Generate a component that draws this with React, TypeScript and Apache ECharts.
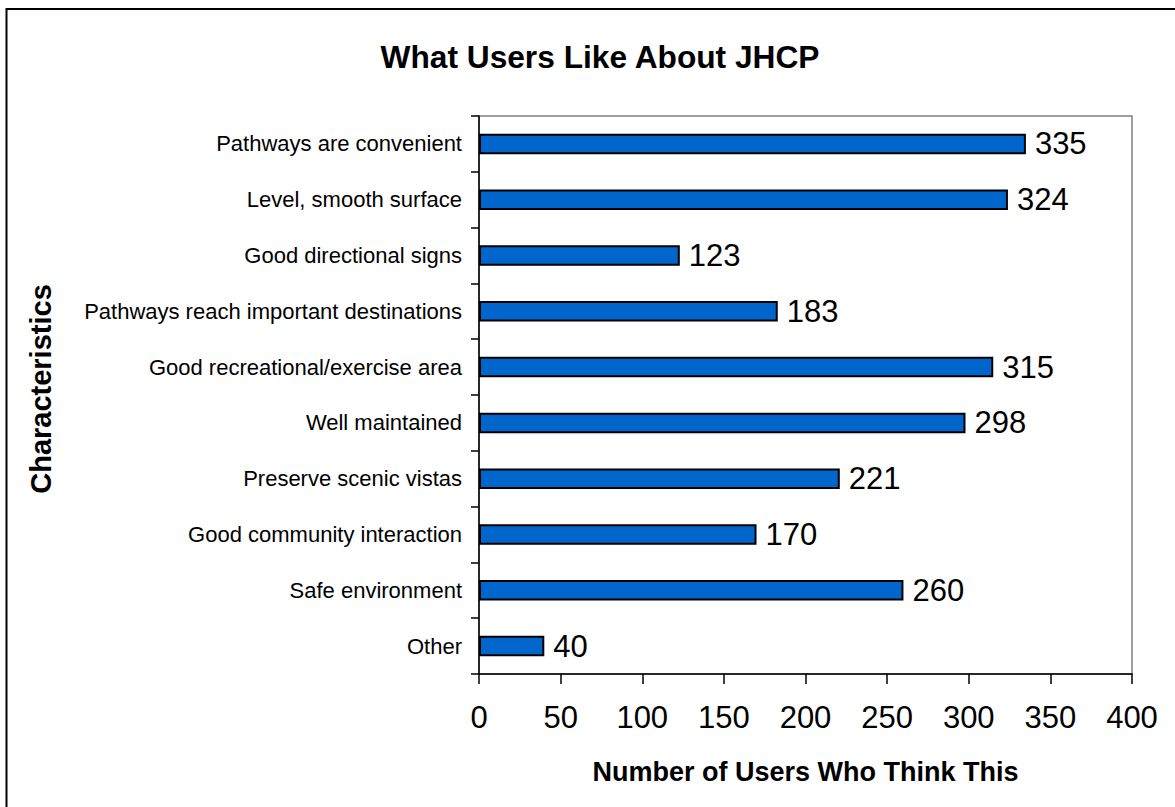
import React, { useEffect, useRef } from "react";
import * as echarts from "echarts";

const categories = [
  "Pathways are convenient",
  "Level, smooth surface",
  "Good directional signs",
  "Pathways reach important destinations",
  "Good recreational/exercise area",
  "Well maintained",
  "Preserve scenic vistas",
  "Good community interaction",
  "Safe environment",
  "Other",
];
const values = [335, 324, 123, 183, 315, 298, 221, 170, 260, 40];
const chartTitle = "What Users Like About JHCP";
const xTitle = "Number of Users Who Think This";
const yTitle = "Characteristics";

const FONT = "'Liberation Sans', Arial, Helvetica, sans-serif";

export default function App() {
  const ref = useRef<HTMLDivElement>(null);
  useEffect(() => {
    if (!ref.current) return;
    const chart = echarts.init(ref.current, undefined, { renderer: "svg" });
    chart.setOption({
      animation: false,
      backgroundColor: "#ffffff",
      textStyle: { fontFamily: FONT },
      title: {
        text: chartTitle,
        left: 595,
        textAlign: "center",
        top: 36,
        textStyle: { fontFamily: FONT, fontSize: 31.7, fontWeight: "bold", color: "#000" },
      },
      graphic: [
        {
          type: "rect",
          shape: { x: 6.5, y: 9, width: 1300, height: 900 },
          style: { fill: "none", stroke: "#000", lineWidth: 2 },
          silent: true,
        },
        {
          type: "text",
          x: 41,
          y: 389,
          rotation: Math.PI / 2,
          style: {
            text: yTitle,
            fontFamily: FONT,
            fontSize: 29,
            fontWeight: "bold",
            fill: "#000",
            align: "center",
            verticalAlign: "middle",
          },
          silent: true,
        },
      ],
      grid: {
        left: 479,
        right: 43,
        top: 116,
        bottom: 133,
        show: true,
        borderColor: "#808080",
        borderWidth: 1.5,
        containLabel: false,
      },
      xAxis: {
        type: "value",
        min: 0,
        max: 400,
        interval: 50,
        name: xTitle,
        nameLocation: "middle",
        nameGap: 84,
        nameTextStyle: { fontFamily: FONT, fontSize: 27, fontWeight: "bold", color: "#000" },
        axisLine: { show: true, lineStyle: { color: "#000", width: 1.5 } },
        axisTick: { show: true, length: 10, lineStyle: { color: "#000", width: 1.5 } },
        axisLabel: { fontFamily: FONT, fontSize: 31, color: "#000", margin: 28 },
        splitLine: { show: false },
      },
      yAxis: {
        type: "category",
        data: categories,
        inverse: true,
        axisLine: { show: true, lineStyle: { color: "#000", width: 1.5 } },
        axisTick: { show: true, length: 8, lineStyle: { color: "#000", width: 1.5 } },
        axisLabel: { fontFamily: FONT, fontSize: 22, color: "#000", margin: 17 },
      },
      series: [
        {
          type: "bar",
          data: values,
          barWidth: 20.5,
          itemStyle: { color: "#0066CC", borderColor: "#000", borderWidth: 2 },
          label: {
            show: true,
            position: "right",
            distance: 9,
            fontFamily: FONT,
            fontSize: 31,
            color: "#000",
          },
        },
      ],
    });
    return () => chart.dispose();
  }, []);
  return (
    <div
      ref={ref}
      style={{ position: "fixed", left: 0, top: 0, width: 1175, height: 807 }}
    />
  );
}
